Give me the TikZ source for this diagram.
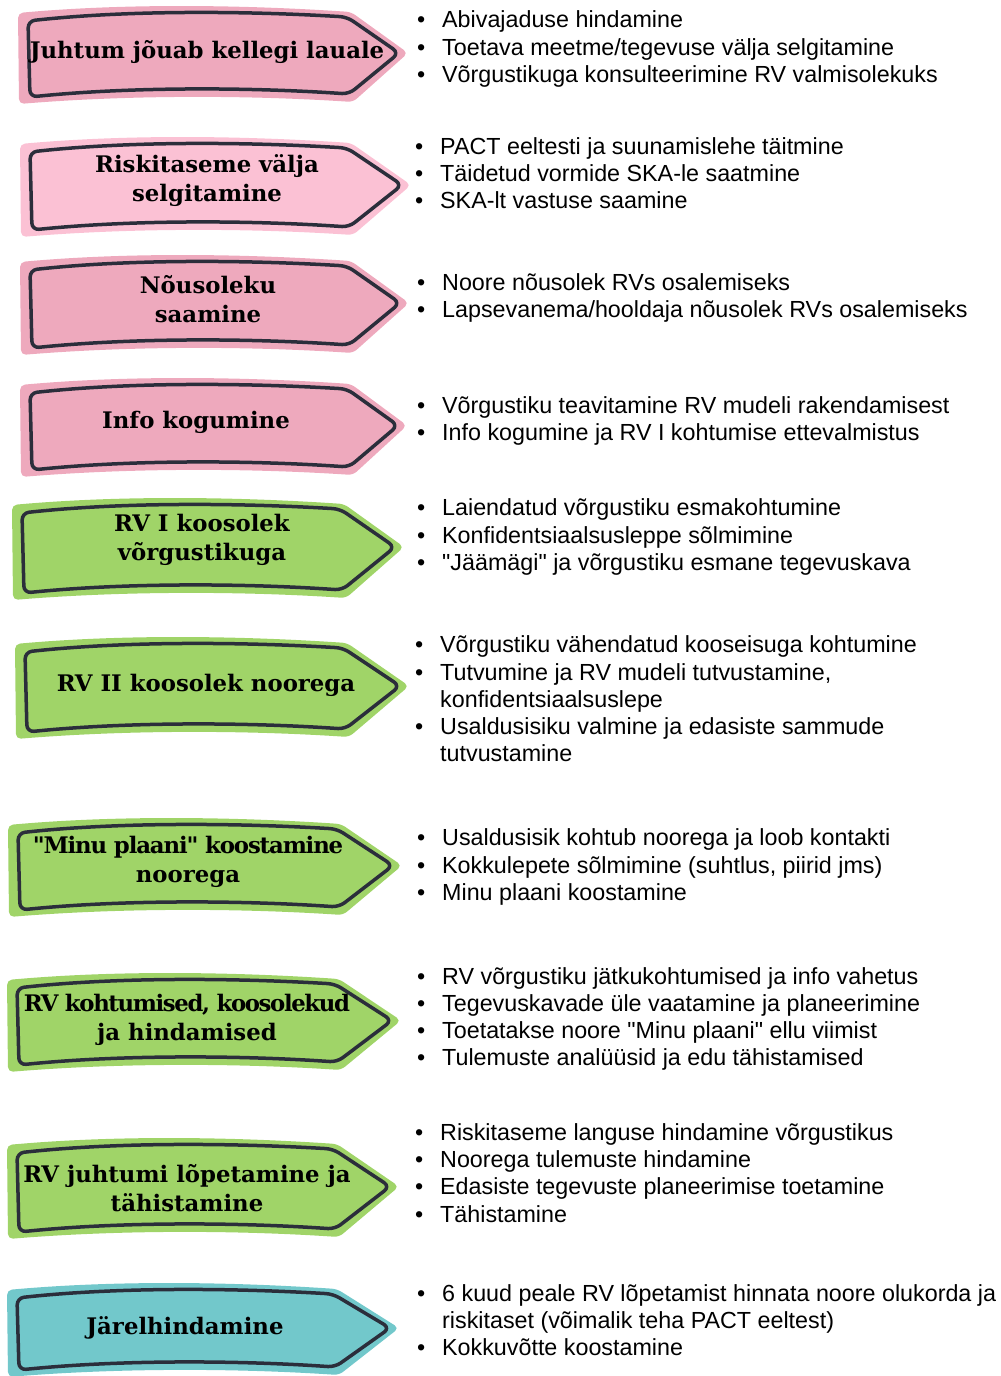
\documentclass[tikz,border=0pt]{standalone}
\usepackage{fontspec}
\setmainfont{DejaVu Serif}[Ligatures=TeXOff]
\setsansfont{Liberation Sans}[Ligatures=TeXOff]
\definecolor{steppink}{HTML}{EEA9BD}
\definecolor{steplight}{HTML}{FBC1D4}
\definecolor{stepgreen}{HTML}{A0D468}
\definecolor{stepteal}{HTML}{72C8CB}
\definecolor{stepedge}{HTML}{2B2E3B}
\tikzset{
  stepline/.style={draw=stepedge, line width=3.5pt, line join=round, rounded corners=7pt},
  steplabel/.style={font=\fontsize{22.8}{29}\selectfont\bfseries, align=center, text=black, inner sep=0pt},
  stepitems/.style={font=\sffamily\fontsize{23.3}{27.2}\selectfont, anchor=west, align=left, inner sep=0pt, text=black}
}
% colour, left x, top y, shoulder x, tip x, bottom y
\newcommand{\steparrow}[6]{%
  \pgfmathsetmacro\ym{(#3+#6)/2-6}
  \fill[#1, rounded corners=5pt] ({#2-10},{#3-8}) .. controls ({#2+100},{#3-18}) and ({#4-100},{#3-16}) .. ({#4+4},{#3-9})
    -- ({#5+9},\ym) -- ({#4+6},{#6+5}) .. controls ({#4-100},{#6-2}) and ({#2+100},{#6-2}) .. ({#2-9},{#6+7}) -- cycle;
  \draw[stepline] (#2,#3) .. controls ({#2+100},{#3-11}) and ({#4-100},{#3-10}) .. (#4,{#3-4})
    -- (#5,\ym) -- ({#4+2},{#6-3}) .. controls ({#4-100},{#6-10}) and ({#2+100},{#6-10}) .. ({#2+2},#6) -- cycle;
}
\newcommand{\bi}{\makebox[25pt][l]{\textbullet}}
\newcommand{\bc}{\hspace*{25pt}}
\begin{document}
\begin{tikzpicture}[x=1pt, y=-1pt]
\useasboundingbox (0,0) rectangle (1001,1376);
\clip (0,0) rectangle (1001,1376);
% arrows
\steparrow{steppink}{28}{21}{347}{399}{97}
\steparrow{steplight}{30}{152}{347}{402}{230}
\steparrow{steppink}{30}{270}{347}{400}{348}
\steparrow{steppink}{30}{393}{347}{398}{470}
\steparrow{stepgreen}{22}{513}{340}{395}{593}
\steparrow{stepgreen}{25}{652}{343}{400}{732}
\steparrow{stepgreen}{18}{833}{337}{393}{910}
\steparrow{stepgreen}{17}{988}{335}{392}{1065}
\steparrow{stepgreen}{17}{1153}{333}{390}{1232}
\steparrow{stepteal}{17}{1298}{333}{390}{1370}
% labels
\node[steplabel] (l1) at (207,52) {Juhtum jõuab kellegi lauale};
\node[steplabel] (l2) at (207,181) {Riskitaseme välja\\selgitamine};
\node[steplabel] (l3) at (208,299) {Nõusoleku\\saamine};
\node[steplabel] (l4) at (196,422) {Info kogumine};
\node[steplabel] (l5) at (202,540) {RV I koosolek\\võrgustikuga};
\node[steplabel] (l6) at (206,685) {RV II koosolek noorega};
\node[steplabel] (l7) at (188,862) {\addfontfeature{LetterSpace=-5}"Minu plaani" koostamine\\noorega};
\node[steplabel] (l8) at (187,1020) {\addfontfeature{LetterSpace=-6}RV kohtumised, koosolekud\\ja hindamised};
\node[steplabel] (l9) at (187,1188) {RV juhtumi lõpetamine ja\\tähistamine};
\node[steplabel] (l10) at (185,1328) {Järelhindamine};
% lists
\node[stepitems] (b1) at (417,49) {\bi Abivajaduse hindamine\\ \bi Toetava meetme/tegevuse välja selgitamine\\ \bi Võrgustikuga konsulteerimine RV valmisolekuks};
\node[stepitems] (b2) at (415,173) {\bi PACT eeltesti ja suunamislehe täitmine\\ \bi Täidetud vormide SKA-le saatmine\\ \bi SKA-lt vastuse saamine};
\node[stepitems] (b3) at (417,298) {\bi Noore nõusolek RVs osalemiseks\\ \bi Lapsevanema/hooldaja nõusolek RVs osalemiseks};
\node[stepitems] (b4) at (417,421) {\bi Võrgustiku teavitamine RV mudeli rakendamisest\\ \bi Info kogumine ja RV I kohtumise ettevalmistus};
\node[stepitems] (b5) at (417,537) {\bi Laiendatud võrgustiku esmakohtumine\\ \bi Konfidentsiaalsusleppe sõlmimine\\ \bi "Jäämägi" ja võrgustiku esmane tegevuskava};
\node[stepitems] (b6) at (415,699) {\bi Võrgustiku vähendatud kooseisuga kohtumine\\ \bi Tutvumine ja RV mudeli tutvustamine,\\ \bc konfidentsiaalsuslepe\\ \bi Usaldusisiku valmine ja edasiste sammude\\ \bc tutvustamine};
\node[stepitems] (b7) at (417,867) {\bi Usaldusisik kohtub noorega ja loob kontakti\\ \bi Kokkulepete sõlmimine (suhtlus, piirid jms)\\ \bi Minu plaani koostamine};
\node[stepitems] (b8) at (417,1019) {\bi RV võrgustiku jätkukohtumised ja info vahetus\\ \bi Tegevuskavade üle vaatamine ja planeerimine\\ \bi Toetatakse noore "Minu plaani" ellu viimist\\ \bi Tulemuste analüüsid ja edu tähistamised};
\node[stepitems] (b9) at (415,1173) {\bi Riskitaseme languse hindamine võrgustikus\\ \bi Noorega tulemuste hindamine\\ \bi Edasiste tegevuste planeerimise toetamine\\ \bi Tähistamine};
\node[stepitems] (b10) at (417,1320) {\bi 6 kuud peale RV lõpetamist hinnata noore olukorda ja\\ \bc riskitaset (võimalik teha PACT eeltest)\\ \bi Kokkuvõtte koostamine};
\end{tikzpicture}
\end{document}
